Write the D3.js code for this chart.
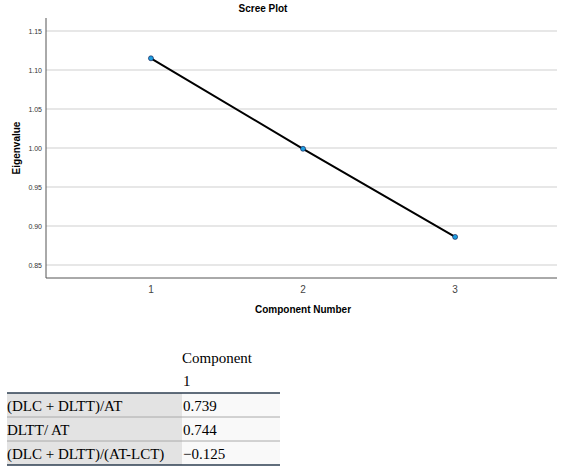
<!DOCTYPE html><html><head><meta charset="utf-8"><script src="https://cdn.jsdelivr.net/npm/d3@7"></script>
<style>body{margin:0;background:#fff}</style></head><body><svg id="c" width="562" height="473"></svg><script>
const components=[1,2,3];
const eigenvalues=[1.115,0.999,0.886];
const yTicks=[0.85,0.90,0.95,1.00,1.05,1.10,1.15];
const rowLabels=["(DLC + DLTT)/AT","DLTT/ AT","(DLC + DLTT)/(AT-LCT)"];
const loadings=["0.739","0.744","\u22120.125"];
const svg=d3.select("#c");
const x=d3.scaleLinear().domain([0.31,3.67]).range([46,557]);
const y=d3.scaleLinear().domain([0.85,1.15]).range([265,31]);
svg.append("g").selectAll("line").data(yTicks).join("line").attr("x1",46).attr("x2",557).attr("y1",d=>y(d)).attr("y2",d=>y(d)).attr("stroke","#cfcfcf").attr("stroke-width",1);
svg.append("g").selectAll("text").data(yTicks).join("text").attr("x",42).attr("y",d=>y(d)+3).attr("text-anchor","end").attr("font-family","Arial, Liberation Sans").attr("font-size",7).attr("fill","#333").text(d=>d.toFixed(2));
svg.append("line").attr("x1",46).attr("x2",46).attr("y1",18).attr("y2",278).attr("stroke","#555");
svg.append("line").attr("x1",46).attr("x2",557).attr("y1",278).attr("y2",278).attr("stroke","#555");
svg.append("g").selectAll("text").data(components).join("text").attr("x",d=>x(d)).attr("y",293).attr("text-anchor","middle").attr("font-family","Liberation Sans").attr("font-size",10).attr("fill","#444").text(d=>d);
svg.append("text").attr("x",303).attr("y",313).attr("text-anchor","middle").attr("font-family","Liberation Sans").attr("font-weight","bold").attr("font-size",10).text("Component Number");
svg.append("text").attr("x",263).attr("y",12).attr("text-anchor","middle").attr("font-family","Liberation Sans").attr("font-weight","bold").attr("font-size",10).text("Scree Plot");
svg.append("text").attr("transform","translate(20,148) rotate(-90)").attr("text-anchor","middle").attr("font-family","Liberation Sans").attr("font-weight","bold").attr("font-size",10).text("Eigenvalue");
const pts=components.map((c,i)=>[c,eigenvalues[i]]);
svg.append("path").attr("d",d3.line().x(d=>x(d[0])).y(d=>y(d[1]))(pts)).attr("fill","none").attr("stroke","#000").attr("stroke-width",2);
svg.append("g").selectAll("circle").data(pts).join("circle").attr("cx",d=>x(d[0])).attr("cy",d=>y(d[1])).attr("r",2.5).attr("fill","#1e9ee0").attr("stroke","#114").attr("stroke-width",0.6);
// table
const t=svg.append("g").attr("font-family","Liberation Serif").attr("font-size",15);
t.append("text").attr("x",182).attr("y",363).attr("textLength",70).text("Component");
t.append("text").attr("x",183).attr("y",386).text("1");
const rowY=d3.scaleBand().domain(d3.range(3)).range([393,465]);
rowLabels.forEach((l,i)=>{
 t.append("rect").attr("x",7).attr("y",rowY(i)).attr("width",175).attr("height",rowY.bandwidth()).attr("fill","#e3e3e3");
 t.append("rect").attr("x",182).attr("y",rowY(i)).attr("width",98).attr("height",rowY.bandwidth()).attr("fill","#f9f9f9");
 t.append("text").attr("x",7).attr("y",rowY(i)+18).text(l);
 t.append("text").attr("x",183).attr("y",rowY(i)+18).text(loadings[i]);
 if(i>0) t.append("line").attr("x1",7).attr("x2",280).attr("y1",rowY(i)).attr("y2",rowY(i)).attr("stroke","#aaa");
});
t.append("line").attr("x1",7).attr("x2",280).attr("y1",393).attr("y2",393).attr("stroke","#2c3e50").attr("stroke-width",1.5);
t.append("line").attr("x1",7).attr("x2",280).attr("y1",465).attr("y2",465).attr("stroke","#2c3e50").attr("stroke-width",1.5);
</script></body></html>
